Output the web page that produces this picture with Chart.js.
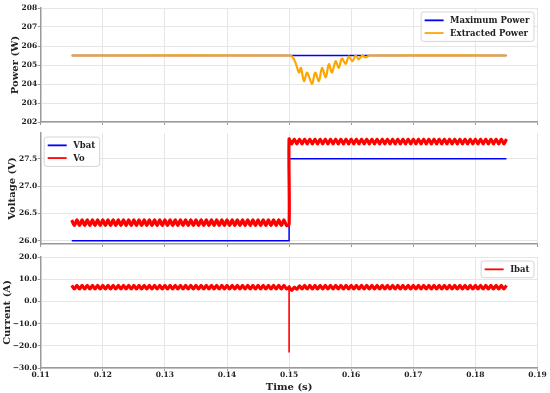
<!DOCTYPE html>
<html>
<head>
<meta charset="utf-8">
<script src="https://cdn.jsdelivr.net/npm/chart.js@4.4.1/dist/chart.umd.min.js"></script>
<style>
  html, body { margin: 0; padding: 0; background: #fff; }
  #wrap { position: relative; width: 550px; height: 393px; overflow: hidden; }
  canvas { position: absolute; left: 0; }
</style>
</head>
<body>
<div id="wrap">
  <canvas id="powerChart" width="550" height="128" style="top:0px"></canvas>
  <canvas id="voltChart" width="550" height="125" style="top:125px"></canvas>
  <canvas id="currChart" width="550" height="143" style="top:250px"></canvas>
</div>

<script>
// ---- data ----
var xTicks = [0.11, 0.12, 0.13, 0.14, 0.15, 0.16, 0.17, 0.18, 0.19];
var powerTicks = [202, 203, 204, 205, 206, 207, 208];
var voltTicks = [26.0, 26.5, 27.0, 27.5];
var currTicks = [-30, -20, -10, 0, 10, 20];

var maxPowerTime = [0.115, 0.185];
var maxPowerValues = [205.5, 205.5];

var extPowerTime = [0.115, 0.1500, 0.1505, 0.1510, 0.1516, 0.1519, 0.1524, 0.1529, 0.1537,
  0.1542, 0.1548, 0.1553, 0.1559, 0.1564, 0.1569, 0.1575, 0.1580, 0.1585, 0.1591, 0.1596,
  0.1602, 0.1607, 0.1612, 0.1618, 0.1623, 0.1630, 0.185];
var extPowerValues = [205.5, 205.5, 205.45, 205.15, 204.6, 204.85, 204.15, 204.6, 204.0,
  204.6, 204.15, 204.85, 204.35, 205.05, 204.6, 205.2, 204.85, 205.35, 205.05, 205.45,
  205.2, 205.5, 205.3, 205.5, 205.4, 205.5, 205.5];

var vbatTime = [0.115, 0.150, 0.150, 0.185];
var vbatValues = [26.0, 26.0, 27.5, 27.5];

// ripple signals sampled every half ripple period (~1.2 kHz ripple),
// one segment before the step at 0.15 s and one after
var sampleStep = 0.035 / 84;
var beforeStart = 0.115;
var afterStart = 0.150;

var voBefore = [
  26.38, 26.28, 26.38, 26.28, 26.38, 26.28, 26.38, 26.28, 26.38, 26.28,
  26.38, 26.28, 26.38, 26.28, 26.38, 26.28, 26.38, 26.28, 26.38, 26.28,
  26.38, 26.28, 26.38, 26.28, 26.38, 26.28, 26.38, 26.28, 26.38, 26.28,
  26.38, 26.28, 26.38, 26.28, 26.38, 26.28, 26.38, 26.28, 26.38, 26.28,
  26.38, 26.28, 26.38, 26.28, 26.38, 26.28, 26.38, 26.28, 26.38, 26.28,
  26.38, 26.28, 26.38, 26.28, 26.38, 26.28, 26.38, 26.28, 26.38, 26.28,
  26.38, 26.28, 26.38, 26.28, 26.38, 26.28, 26.38, 26.28, 26.38, 26.28,
  26.38, 26.28, 26.38, 26.28, 26.38, 26.28, 26.38, 26.28, 26.38, 26.28,
  26.38, 26.28, 26.38, 26.28,
  26.30
];
var voAfter = [
  27.86,
  27.77, 27.86, 27.77, 27.86, 27.77, 27.86, 27.77, 27.86, 27.77, 27.86,
  27.77, 27.86, 27.77, 27.86, 27.77, 27.86, 27.77, 27.86, 27.77, 27.86,
  27.77, 27.86, 27.77, 27.86, 27.77, 27.86, 27.77, 27.86, 27.77, 27.86,
  27.77, 27.86, 27.77, 27.86, 27.77, 27.86, 27.77, 27.86, 27.77, 27.86,
  27.77, 27.86, 27.77, 27.86, 27.77, 27.86, 27.77, 27.86, 27.77, 27.86,
  27.77, 27.86, 27.77, 27.86, 27.77, 27.86, 27.77, 27.86, 27.77, 27.86,
  27.77, 27.86, 27.77, 27.86, 27.77, 27.86, 27.77, 27.86, 27.77, 27.86,
  27.77, 27.86, 27.77, 27.86, 27.77, 27.86, 27.77, 27.86, 27.77, 27.86,
  27.77, 27.86, 27.77, 27.86
];

var ibatBefore = [
  7.2, 5.6, 7.2, 5.6, 7.2, 5.6, 7.2, 5.6, 7.2, 5.6,
  7.2, 5.6, 7.2, 5.6, 7.2, 5.6, 7.2, 5.6, 7.2, 5.6,
  7.2, 5.6, 7.2, 5.6, 7.2, 5.6, 7.2, 5.6, 7.2, 5.6,
  7.2, 5.6, 7.2, 5.6, 7.2, 5.6, 7.2, 5.6, 7.2, 5.6,
  7.2, 5.6, 7.2, 5.6, 7.2, 5.6, 7.2, 5.6, 7.2, 5.6,
  7.2, 5.6, 7.2, 5.6, 7.2, 5.6, 7.2, 5.6, 7.2, 5.6,
  7.2, 5.6, 7.2, 5.6, 7.2, 5.6, 7.2, 5.6, 7.2, 5.6,
  7.2, 5.6, 7.2, 5.6, 7.2, 5.6, 7.2, 5.6, 7.2, 5.6,
  7.2, 5.6, 7.2, 5.6,
  6.5
];
var ibatAfter = [
  6.5, 4.9, 6.4, 5.5, 7.0,
  5.6, 7.2, 5.6, 7.2, 5.6, 7.2, 5.6, 7.2, 5.6, 7.2,
  5.6, 7.2, 5.6, 7.2, 5.6, 7.2, 5.6, 7.2, 5.6, 7.2,
  5.6, 7.2, 5.6, 7.2, 5.6, 7.2, 5.6, 7.2, 5.6, 7.2,
  5.6, 7.2, 5.6, 7.2, 5.6, 7.2, 5.6, 7.2, 5.6, 7.2,
  5.6, 7.2, 5.6, 7.2, 5.6, 7.2, 5.6, 7.2, 5.6, 7.2,
  5.6, 7.2, 5.6, 7.2, 5.6, 7.2, 5.6, 7.2, 5.6, 7.2,
  5.6, 7.2, 5.6, 7.2, 5.6, 7.2, 5.6, 7.2, 5.6, 7.2,
  5.6, 7.2, 5.6, 7.2, 5.6, 7.2, 5.6, 7.2, 5.6, 7.2
];
var ibatSpikeTime = [0.150, 0.150];
var ibatSpikeValues = [6.5, -23.0];

// ---- helpers ----
function pairs(xs, ys) {
  return ys.map(function(y, i) { return { x: xs[i], y: y }; });
}
function sampled(start, ys) {
  return ys.map(function(y, i) { return { x: start + i * sampleStep, y: y }; });
}

var FONT = '"DejaVu Serif", serif';
var GRID = '#e6e6e6';
var SPINE = '#9a9a9a';

// legend drawn inside the plot area, like matplotlib
var insideLegend = {
  id: 'insideLegend',
  afterDraw: function(chart, args, opts) {
    var ctx = chart.ctx, area = chart.chartArea;
    var items = chart.data.datasets.filter(function(d) { return d.label.charAt(0) !== '_'; });
    ctx.save();
    ctx.font = 'bold 8.5px ' + FONT;
    var rowH = 12.7, lineLen = 19, padL = 3.5, gap = 6.5, padR = 4.5, padV = 2;
    var textW = Math.max.apply(null, items.map(function(d) { return ctx.measureText(d.label).width; }));
    var w = padL + lineLen + gap + textW + padR;
    var h = padV * 2 + rowH * items.length;
    var x = opts.align === 'left' ? area.left + 3.5 : area.right - 3.5 - w;
    var y = area.top + 4;
    ctx.beginPath();
    ctx.roundRect(x, y, w, h, 2.5);
    ctx.fillStyle = 'rgba(255,255,255,0.85)';
    ctx.fill();
    ctx.lineWidth = 1;
    ctx.strokeStyle = '#d4d4d4';
    ctx.stroke();
    items.forEach(function(d, i) {
      var cy = y + padV + rowH * (i + 0.5);
      ctx.beginPath();
      ctx.moveTo(x + padL, cy);
      ctx.lineTo(x + padL + lineLen, cy);
      ctx.strokeStyle = d.borderColor;
      ctx.lineWidth = 1.8;
      ctx.stroke();
      ctx.fillStyle = '#222';
      ctx.textBaseline = 'middle';
      ctx.textAlign = 'left';
      ctx.fillText(d.label, x + padL + lineLen + gap, cy + 0.5);
    });
    ctx.restore();
  }
};

function xScale(showLabels, axisHeight) {
  return {
    type: 'linear',
    min: 0.11,
    max: 0.19,
    afterBuildTicks: function(s) { s.ticks = xTicks.map(function(v) { return { value: v }; }); },
    afterFit: function(s) { s.height = axisHeight; },
    grid: { color: GRID, lineWidth: 1, tickLength: 3, tickColor: SPINE },
    border: { color: SPINE, width: 1.5 },
    ticks: {
      display: showLabels,
      padding: 0,
      maxRotation: 0,
      color: '#222',
      font: { family: FONT, size: 7.5, weight: 'bold' },
      callback: function(v) { return v.toFixed(2); }
    },
    title: {
      display: showLabels,
      text: 'Time (s)',
      color: '#222',
      padding: { top: 0, bottom: 0 },
      font: { family: FONT, size: 10, weight: 'bold' }
    }
  };
}

function yScale(title, min, max, tickList, titlePad, fmt) {
  return {
    min: min,
    max: max,
    afterBuildTicks: function(s) { s.ticks = tickList.map(function(v) { return { value: v }; }); },
    afterFit: function(s) { s.width = 40.7; },
    grid: { color: GRID, lineWidth: 1, tickLength: 3, tickColor: SPINE },
    border: { color: SPINE, width: 1.5 },
    ticks: {
      padding: 0.5,
      color: '#222',
      font: { family: FONT, size: 7.5, weight: 'bold' },
      callback: fmt
    },
    title: {
      display: true,
      text: title,
      color: '#222',
      padding: { top: titlePad, bottom: 0 },
      font: { family: FONT, size: 10, weight: 'bold' }
    }
  };
}

function baseOptions(padTop, scales, legendAlign) {
  return {
    responsive: false,
    animation: false,
    layout: { padding: { top: padTop, right: 12.5, left: 0, bottom: 0 } },
    elements: { point: { radius: 0 }, line: { tension: 0 } },
    plugins: {
      legend: { display: false },
      tooltip: { enabled: false },
      insideLegend: { align: legendAlign }
    },
    scales: scales
  };
}

// Power
new Chart(document.getElementById('powerChart'), {
  type: 'line',
  data: {
    datasets: [
      { label: 'Maximum Power', data: pairs(maxPowerTime, maxPowerValues), borderColor: '#0000ff', borderWidth: 1.6, order: 1 },
      { label: 'Extracted Power', data: pairs(extPowerTime, extPowerValues), borderColor: '#ffa500', borderWidth: 2.2, tension: 0.3, order: 0 }
    ]
  },
  options: baseOptions(8, {
    x: xScale(false, 6),
    y: yScale('Power (W)', 202, 208, powerTicks, 9, function(v) { return v.toFixed(0); })
  }, 'right'),
  plugins: [insideLegend]
});

// Voltage
new Chart(document.getElementById('voltChart'), {
  type: 'line',
  data: {
    datasets: [
      { label: 'Vbat', data: pairs(vbatTime, vbatValues), borderColor: '#0000ff', borderWidth: 1.5, order: 1 },
      { label: 'Vo', data: sampled(beforeStart, voBefore).concat(sampled(afterStart, voAfter)), borderColor: '#ff0000', borderWidth: 3.2, tension: 0.3, order: 0 }
    ]
  },
  options: baseOptions(8, {
    x: xScale(false, 6),
    y: yScale('Voltage (V)', 25.94, 27.97, voltTicks, 6.3, function(v) { return v.toFixed(1); })
  }, 'left'),
  plugins: [insideLegend]
});

// Current
new Chart(document.getElementById('currChart'), {
  type: 'line',
  data: {
    datasets: [
      { label: 'Ibat', data: sampled(beforeStart, ibatBefore).concat(sampled(afterStart, ibatAfter)), borderColor: '#ff0000', borderWidth: 3.2, tension: 0.3 },
      { label: '_spike', data: pairs(ibatSpikeTime, ibatSpikeValues), borderColor: '#ff0000', borderWidth: 1.6 }
    ]
  },
  options: baseOptions(7, {
    x: xScale(true, 25),
    y: yScale('Current (A)', -30, 20, currTicks, 1.3, function(v) { return v.toFixed(1).replace('-', '\u2212'); })
  }, 'right'),
  plugins: [insideLegend]
});
</script>
</body>
</html>
